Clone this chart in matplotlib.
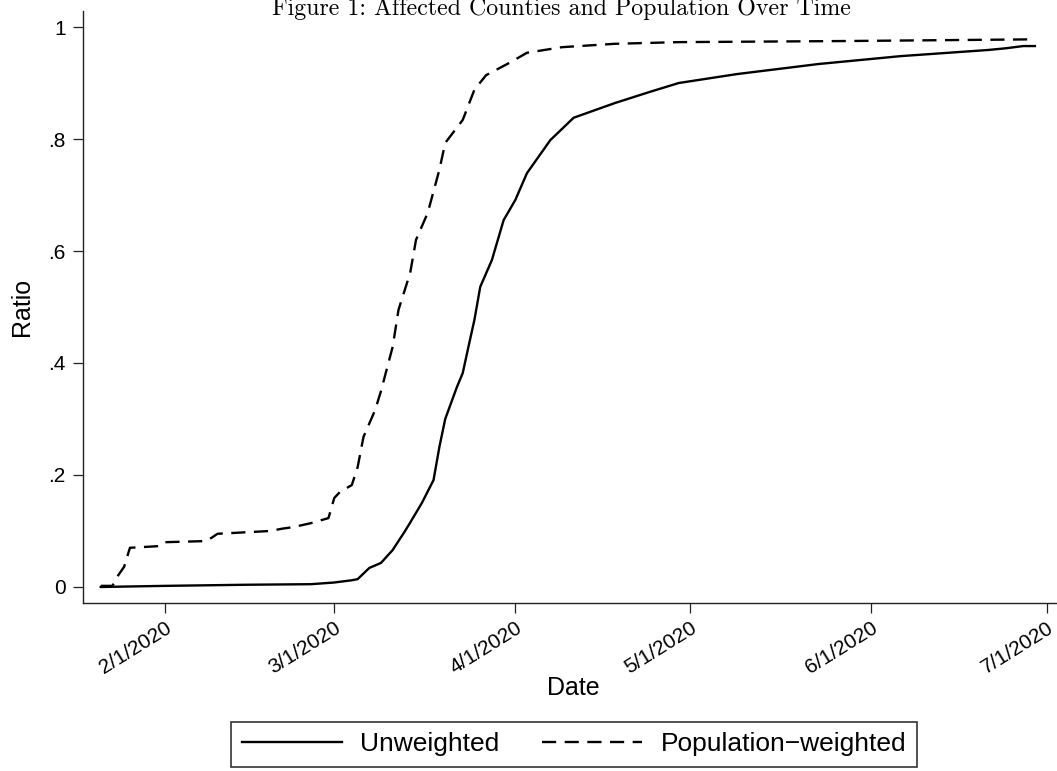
import matplotlib
matplotlib.use("Agg")
import matplotlib.pyplot as plt
import matplotlib.dates as mdates
import pandas as pd

# unweighted share of affected counties
unw_dates = ["2020-01-21", "2020-02-01", "2020-02-15", "2020-02-26", "2020-03-01",
             "2020-03-04", "2020-03-05", "2020-03-07", "2020-03-09", "2020-03-11",
             "2020-03-13", "2020-03-14", "2020-03-16", "2020-03-18", "2020-03-19",
             "2020-03-20", "2020-03-22", "2020-03-23", "2020-03-24", "2020-03-25",
             "2020-03-26", "2020-03-28", "2020-03-30", "2020-04-01", "2020-04-03",
             "2020-04-07", "2020-04-11", "2020-04-18", "2020-04-24", "2020-04-29",
             "2020-05-09", "2020-05-23", "2020-06-06", "2020-06-21", "2020-06-24",
             "2020-06-27", "2020-06-29"]
unw_vals = [0.000, 0.002, 0.004, 0.005, 0.008,
            0.012, 0.014, 0.034, 0.043, 0.066,
            0.098, 0.115, 0.150, 0.191, 0.250,
            0.300, 0.357, 0.382, 0.430, 0.477,
            0.536, 0.584, 0.655, 0.691, 0.739,
            0.798, 0.838, 0.864, 0.884, 0.900,
            0.916, 0.934, 0.948, 0.959, 0.962,
            0.966, 0.966]

# population-weighted share
pop_dates = ["2020-01-21", "2020-01-23", "2020-01-24", "2020-01-25", "2020-01-26",
             "2020-01-31", "2020-02-01", "2020-02-08", "2020-02-09", "2020-02-10",
             "2020-02-19", "2020-02-21", "2020-02-23", "2020-02-26", "2020-02-29",
             "2020-03-01", "2020-03-02", "2020-03-04", "2020-03-05", "2020-03-06",
             "2020-03-08", "2020-03-09", "2020-03-11", "2020-03-12", "2020-03-14",
             "2020-03-15", "2020-03-17", "2020-03-19", "2020-03-20", "2020-03-23",
             "2020-03-25", "2020-03-27", "2020-03-31", "2020-04-03", "2020-04-09",
             "2020-04-18", "2020-04-29", "2020-05-28", "2020-06-29"]
pop_vals = [0.002, 0.002, 0.021, 0.036, 0.070,
            0.073, 0.080, 0.082, 0.088, 0.095,
            0.100, 0.104, 0.107, 0.114, 0.123,
            0.159, 0.170, 0.182, 0.214, 0.268,
            0.316, 0.350, 0.429, 0.495, 0.561,
            0.620, 0.668, 0.745, 0.793, 0.834,
            0.888, 0.914, 0.936, 0.954, 0.964,
            0.970, 0.973, 0.975, 0.978]

tick_dates = ["2020-02-01", "2020-03-01", "2020-04-01", "2020-05-01", "2020-06-01", "2020-07-01"]
tick_labels = ["2/1/2020", "3/1/2020", "4/1/2020", "5/1/2020", "6/1/2020", "7/1/2020"]
y_ticks = [0, 0.2, 0.4, 0.6, 0.8, 1.0]
y_labels = ["0", ".2", ".4", ".6", ".8", "1"]

plt.rcParams["font.family"] = ["Liberation Sans", "DejaVu Sans"]

W, H = 1057, 771
fig = plt.figure(figsize=(W / 100, H / 100), dpi=100)
ax = fig.add_axes([83 / W, 1 - 603 / H, (1060 - 83) / W, (603 - 11) / H])

dash = (6, 3.6)
ax.plot(pd.to_datetime(unw_dates), unw_vals, color="black", lw=1.7, label="Unweighted")
ax.plot(pd.to_datetime(pop_dates), pop_vals, color="black", lw=1.7,
        linestyle=(0, dash), label="Population\u2212weighted")

feb1 = mdates.date2num(pd.Timestamp("2020-02-01"))
ax.set_xlim(feb1 - 14.04, feb1 + 153.3)
ax.set_ylim(-0.0286, 1.0286)

ax.set_xticks(pd.to_datetime(tick_dates))
ax.set_xticklabels(tick_labels, fontsize=15, rotation=32, ha="right", va="top",
                   rotation_mode="anchor")
ax.set_yticks(y_ticks)
ax.set_yticklabels(y_labels, fontsize=15)
ax.tick_params(axis="both", direction="out", length=7, width=0.9, color="#222222", pad=4)
ax.tick_params(axis="y", pad=5.5)

for side in ("top", "right"):
    ax.spines[side].set_visible(False)
for side in ("left", "bottom"):
    ax.spines[side].set_linewidth(1.0)
    ax.spines[side].set_color("#222222")

fig.text(22 / W, 1 - 307 / H, "Ratio", rotation=90, ha="center", va="center", fontsize=18)
fig.text(573 / W, 1 - 688 / H, "Date", ha="center", va="center", fontsize=18)

fig.text(561 / W, 1 - 15 / H, "Figure 1: Affected Counties and Population Over Time",
         ha="center", va="baseline", fontsize=17.2, family="cmr10")

leg = fig.legend(loc="center", bbox_to_anchor=(574 / W, 1 - 744.5 / H), ncol=2,
                 fontsize=19, frameon=True, fancybox=False, handlelength=3.8,
                 handletextpad=0.7, columnspacing=1.6, borderpad=0.4)
leg.get_frame().set_edgecolor("black")
leg.get_frame().set_linewidth(1.2)

fig.savefig("out.png", dpi=100)
